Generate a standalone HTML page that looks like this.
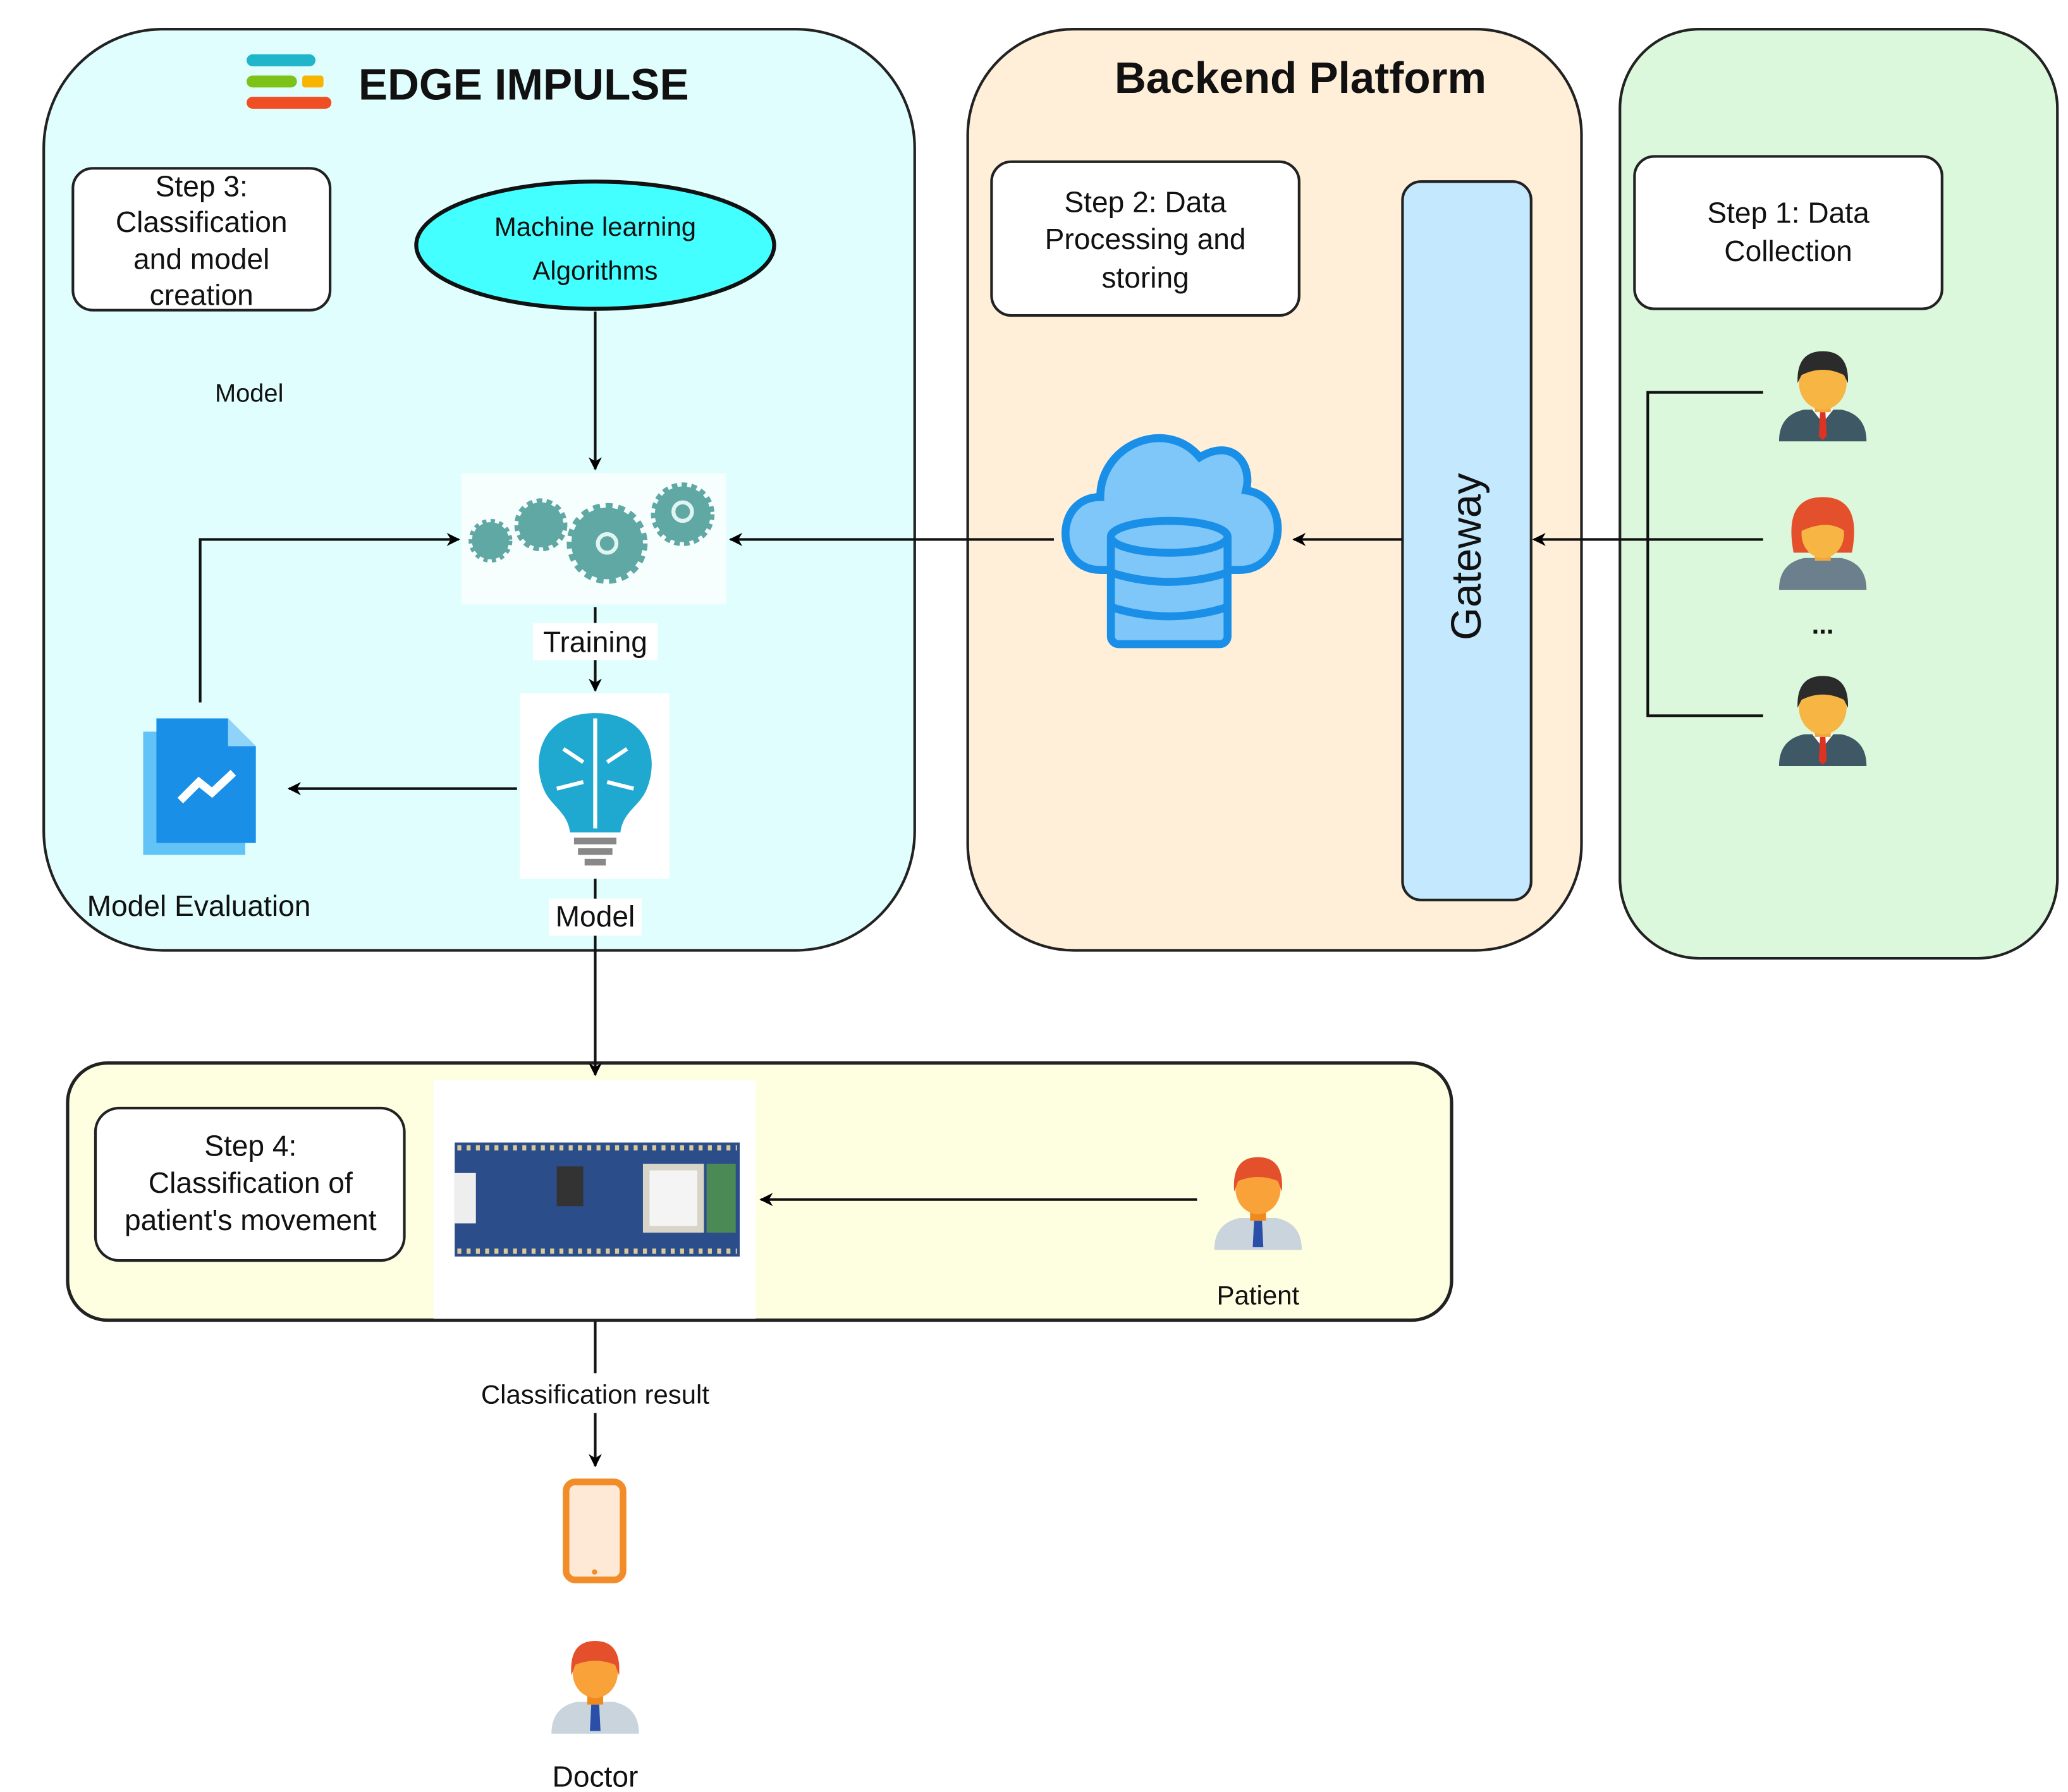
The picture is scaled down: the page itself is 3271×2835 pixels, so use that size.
<!DOCTYPE html>
<html><head><meta charset="utf-8"><style>html,body{margin:0;padding:0;background:#fff}svg{display:block}</style></head>
<body>
<svg width="3271" height="2835" viewBox="0 0 1560 1352" preserveAspectRatio="none" xmlns="http://www.w3.org/2000/svg" font-family="Liberation Sans, sans-serif">
<defs>
<marker id="a" markerWidth="10" markerHeight="10" refX="9" refY="5" orient="auto" markerUnits="userSpaceOnUse"><path d="M0,0 L10,5 L0,10 L3,5z" fill="#000"/></marker>
<g id="man">
<path d="M-33,38 Q-33,18 -14,14 L14,14 Q33,18 33,38z" fill="#3f5866"/>
<path d="M-8,14 L0,24 L8,14z" fill="#fff"/><path d="M-2,16 L2,16 L3,34 L0,37 L-3,34z" fill="#d32"/>
<rect x="-6" y="6" width="12" height="10" fill="#f0a83c"/>
<ellipse cx="0" cy="-6" rx="18" ry="20" fill="#f7b544"/>
<path d="M-19,-6 Q-20,-30 0,-30 Q20,-30 19,-6 L16,-12 Q0,-20 -16,-12z" fill="#2b2b2b"/>
</g>
<g id="woman">
<path d="M-33,38 Q-33,18 -14,14 L14,14 Q33,18 33,38z" fill="#6b7f8c"/>
<path d="M-22,10 Q-30,-32 0,-32 Q30,-32 22,10z" fill="#e5502c"/>
<rect x="-6" y="6" width="12" height="10" fill="#f0a83c"/>
<ellipse cx="0" cy="-4" rx="16" ry="18" fill="#f7b544"/>
<path d="M-17,-6 Q-14,-26 6,-24 Q16,-20 17,-6 Q4,-16 -17,-6z" fill="#e5502c"/>
</g>
<g id="pat">
<path d="M-33,38 Q-33,18 -14,14 L14,14 Q33,18 33,38z" fill="#c9d4dc"/>
<path d="M-3,16 L3,16 L4,36 L-4,36z" fill="#2a4fa8"/>
<rect x="-6" y="4" width="12" height="12" fill="#f08a1c"/>
<ellipse cx="0" cy="-8" rx="17" ry="19" fill="#f9a23a"/>
<path d="M-18,-6 Q-20,-32 0,-32 Q20,-32 18,-6 L15,-14 Q0,-20 -15,-14z" fill="#e5502c"/>
</g>
</defs>
<!-- panels -->
<rect x="33" y="22" width="657" height="695" rx="90" fill="#e0fefe" stroke="#222" stroke-width="2"/>
<rect x="730" y="22" width="463" height="695" rx="80" fill="#ffefd8" stroke="#222" stroke-width="2"/>
<rect x="1222" y="22" width="330" height="701" rx="60" fill="#dcf8dc" stroke="#222" stroke-width="2"/>
<rect x="51" y="802" width="1044" height="194" rx="30" fill="#fefee0" stroke="#222" stroke-width="2.5"/>
<!-- edge impulse logo -->
<rect x="186" y="41" width="52" height="9" rx="4.5" fill="#1fb6c9"/>
<rect x="186" y="57" width="38" height="9" rx="4.5" fill="#7cc219"/>
<rect x="228" y="57" width="16" height="9" rx="2" fill="#f7b500"/>
<rect x="186" y="73" width="64" height="9" rx="4.5" fill="#f04e23"/>
<text x="395" y="75" text-anchor="middle" font-size="33" font-weight="bold" fill="#111">EDGE IMPULSE</text>
<text x="981" y="70" text-anchor="middle" font-size="33" font-weight="bold" fill="#111">Backend Platform</text>
<!-- step boxes -->
<rect x="55" y="127" width="194" height="107" rx="15" fill="#fff" stroke="#222" stroke-width="2"/>
<g font-size="22" text-anchor="middle" fill="#111"><text x="152" y="148">Step 3:</text><text x="152" y="175">Classification</text><text x="152" y="203">and model</text><text x="152" y="230">creation</text></g>
<rect x="748" y="122" width="232" height="116" rx="15" fill="#fff" stroke="#222" stroke-width="2"/>
<g font-size="22" text-anchor="middle" fill="#111"><text x="864" y="160">Step 2: Data</text><text x="864" y="188">Processing and</text><text x="864" y="217">storing</text></g>
<rect x="1233" y="118" width="232" height="115" rx="15" fill="#fff" stroke="#222" stroke-width="2"/>
<g font-size="22" text-anchor="middle" fill="#111"><text x="1349" y="168">Step 1: Data</text><text x="1349" y="197">Collection</text></g>
<rect x="72" y="836" width="233" height="115" rx="18" fill="#fff" stroke="#222" stroke-width="2"/>
<g font-size="22" text-anchor="middle" fill="#111"><text x="189" y="872">Step 4:</text><text x="189" y="900">Classification of</text><text x="189" y="928">patient's movement</text></g>
<!-- ML ellipse -->
<ellipse cx="449" cy="185" rx="135" ry="48" fill="#44ffff" stroke="#111" stroke-width="3"/>
<text x="449" y="178" text-anchor="middle" font-size="20" fill="#111">Machine learning</text>
<text x="449" y="211" text-anchor="middle" font-size="20" fill="#111">Algorithms</text>
<text x="188" y="303" text-anchor="middle" font-size="19" fill="#111">Model</text>
<!-- gears -->
<rect x="348" y="357" width="200" height="99" fill="#f6fefe"/>
<g fill="#5fa8a4">
<circle cx="370" cy="408" r="14" stroke="#5fa8a4" stroke-width="5" stroke-dasharray="3 3"/>
<circle cx="408" cy="396" r="17" stroke="#5fa8a4" stroke-width="6" stroke-dasharray="4 3"/>
<circle cx="458" cy="410" r="27" stroke="#5fa8a4" stroke-width="7" stroke-dasharray="5 4"/>
<circle cx="515" cy="388" r="21" stroke="#5fa8a4" stroke-width="6" stroke-dasharray="4 3"/>
</g>
<circle cx="458" cy="410" r="7" fill="none" stroke="#e0f4f2" stroke-width="3"/>
<circle cx="515" cy="386" r="7" fill="none" stroke="#e0f4f2" stroke-width="3"/>
<rect x="402" y="470" width="94" height="28" fill="#fff"/>
<text x="449" y="492" text-anchor="middle" font-size="22" fill="#111">Training</text>
<!-- brain -->
<rect x="392" y="523" width="113" height="140" fill="#fff"/>
<path d="M449,538 C410,538 400,570 410,595 C415,608 428,612 430,628 L468,628 C470,612 483,608 488,595 C498,570 488,538 449,538z" fill="#1fa8d0"/>
<path d="M449,542 L449,625 M425,565 L440,575 M473,565 L458,575 M420,595 L440,590 M478,595 L458,590" stroke="#fff" stroke-width="3" fill="none"/>
<rect x="433" y="632" width="32" height="5" fill="#888"/><rect x="436" y="640" width="26" height="5" fill="#888"/><rect x="441" y="648" width="16" height="5" fill="#888"/>
<rect x="414" y="678" width="70" height="28" fill="#fff"/>
<text x="449" y="699" text-anchor="middle" font-size="22" fill="#111">Model</text>
<!-- model eval icon -->
<path d="M108,552 L165,552 L185,572 L185,645 L108,645z" fill="#62c3f7"/>
<path d="M118,542 L172,542 L193,563 L193,636 L118,636z" fill="#1a8fe8"/>
<path d="M172,542 L172,563 L193,563z" fill="#8fd2fa"/>
<path d="M136,604 L150,590 L160,598 L176,583" stroke="#fff" stroke-width="6" fill="none"/>
<text x="150" y="691" text-anchor="middle" font-size="22" fill="#111">Model Evaluation</text>
<!-- gateway -->
<rect x="1058" y="137" width="97" height="542" rx="14" fill="#c4e8fd" stroke="#222" stroke-width="2"/>
<text transform="translate(1117,420) rotate(-90)" text-anchor="middle" font-size="32" fill="#111">Gateway</text>
<!-- cloud -->
<path d="M830,430 C795,430 795,375 830,375 C830,335 880,315 905,345 C930,330 945,350 940,370 C975,375 970,430 935,430z" fill="#7fc6f9" stroke="#1a8fe8" stroke-width="6"/>
<rect x="838" y="400" width="88" height="86" rx="6" fill="#7fc6f9" stroke="#1a8fe8" stroke-width="6"/>
<ellipse cx="882" cy="405" rx="44" ry="12" fill="#7fc6f9" stroke="#1a8fe8" stroke-width="6"/>
<path d="M838,432 Q882,446 926,432 M838,458 Q882,472 926,458" stroke="#1a8fe8" stroke-width="6" fill="none"/>
<!-- people -->
<use href="#man" x="1375" y="295"/>
<use href="#woman" x="1375" y="407"/>
<text x="1375" y="478" text-anchor="middle" font-size="20" font-weight="bold" fill="#111">...</text>
<use href="#man" x="1375" y="540"/>
<!-- board -->
<rect x="327" y="815" width="243" height="180" fill="#fff"/>
<rect x="343" y="862" width="215" height="86" fill="#2b4d8a"/>
<g stroke="#d8c99a" stroke-width="4" stroke-dasharray="3 4"><line x1="345" y1="866" x2="556" y2="866"/><line x1="345" y1="944" x2="556" y2="944"/></g>
<rect x="343" y="885" width="16" height="38" fill="#eee"/>
<rect x="485" y="878" width="46" height="52" fill="#d9d4c8"/><rect x="490" y="883" width="36" height="42" fill="#f4f4f4"/>
<rect x="533" y="878" width="22" height="52" fill="#4b8a55"/>
<rect x="420" y="880" width="20" height="30" fill="#333"/>
<!-- patient -->
<use href="#pat" x="949" y="905"/>
<text x="949" y="984" text-anchor="middle" font-size="20" fill="#111">Patient</text>
<!-- phone -->
<rect x="427" y="1118" width="43" height="74" rx="7" fill="#fde9d5" stroke="#f28c28" stroke-width="5"/>
<circle cx="448.5" cy="1186" r="2" fill="#f28c28"/>
<use href="#pat" x="449" y="1270"/>
<text x="449" y="1348" text-anchor="middle" font-size="22" fill="#111">Doctor</text>
<!-- connectors -->
<g stroke="#111" stroke-width="2" fill="none">
<line x1="449" y1="235" x2="449" y2="354" marker-end="url(#a)"/>
<line x1="449" y1="458" x2="449" y2="470"/>
<line x1="449" y1="498" x2="449" y2="521" marker-end="url(#a)"/>
<line x1="390" y1="595" x2="218" y2="595" marker-end="url(#a)"/>
<polyline points="151,530 151,407 346,407" marker-end="url(#a)"/>
<line x1="795" y1="407" x2="551" y2="407" marker-end="url(#a)"/>
<line x1="1058" y1="407" x2="976" y2="407" marker-end="url(#a)"/>
<line x1="1330" y1="407" x2="1157" y2="407" marker-end="url(#a)"/>
<polyline points="1330,296 1243,296 1243,540 1330,540"/>
<line x1="449" y1="663" x2="449" y2="678"/>
<line x1="449" y1="706" x2="449" y2="811" marker-end="url(#a)"/>
<line x1="903" y1="905" x2="574" y2="905" marker-end="url(#a)"/>
<line x1="449" y1="997" x2="449" y2="1036"/>
<line x1="449" y1="1066" x2="449" y2="1106" marker-end="url(#a)"/>
</g>
<text x="449" y="1059" text-anchor="middle" font-size="20" fill="#111">Classification result</text>
</svg>
</body></html>
